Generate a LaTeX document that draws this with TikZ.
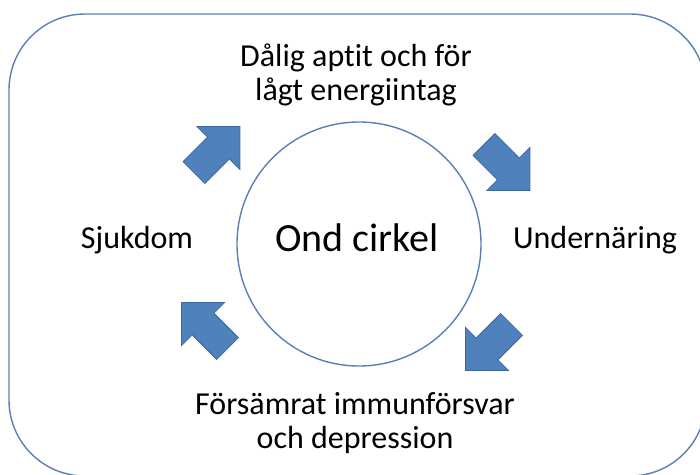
\documentclass[tikz,border=0pt]{standalone}
\usepackage{fontspec}
\setmainfont{Carlito}[Ligatures={NoCommon}]
\usepackage{xcolor}
\usetikzlibrary{shapes.arrows}
\definecolor{cycBlue}{HTML}{4F81BD}
\definecolor{cycEdge}{HTML}{3D6A9E}
\definecolor{cycLine}{HTML}{5B7FB4}

\begin{document}
\begin{tikzpicture}[x=1pt, y=-1pt,
  blockarrow/.style={single arrow, fill=cycBlue, draw=cycEdge, line width=0.8pt,
    inner xsep=0pt, inner ysep=15pt, minimum height=65pt, minimum width=60pt,
    single arrow head extend=15pt},
  label/.style={font=\fontsize{32}{34}\selectfont, align=center, anchor=base}]
  \clip (0,0) rectangle (700,474);
  % frame and circle
  \draw[cycLine, line width=1.4pt, rounded corners=76pt] (9,14) rectangle (706,476);
  \draw[cycLine, line width=1.4pt] (359,244) circle (122pt);
  \node[font=\fontsize{40}{44}\selectfont, anchor=base] (ond) at (357,251) {Ond cirkel};
  % labels
  \node[label] (aptit) at (356,100) {Dålig aptit och för\\lågt energiintag};
  \node[label] (under) at (595,248) {Undernäring};
  \node[label] (immun) at (355,448) {Försämrat immunförsvar\\och depression};
  \node[label] (sjuk) at (137,248) {Sjukdom};
  % arrows
  \node[blockarrow, rotate=45] (pil1) at (211.5,155) {};
  \node[blockarrow, rotate=-45] (pil2) at (501.5,162) {};
  \node[blockarrow, rotate=-135] (pil3) at (494,342) {};
  \node[blockarrow, rotate=135] (pil4) at (210,331) {};
\end{tikzpicture}
\end{document}
